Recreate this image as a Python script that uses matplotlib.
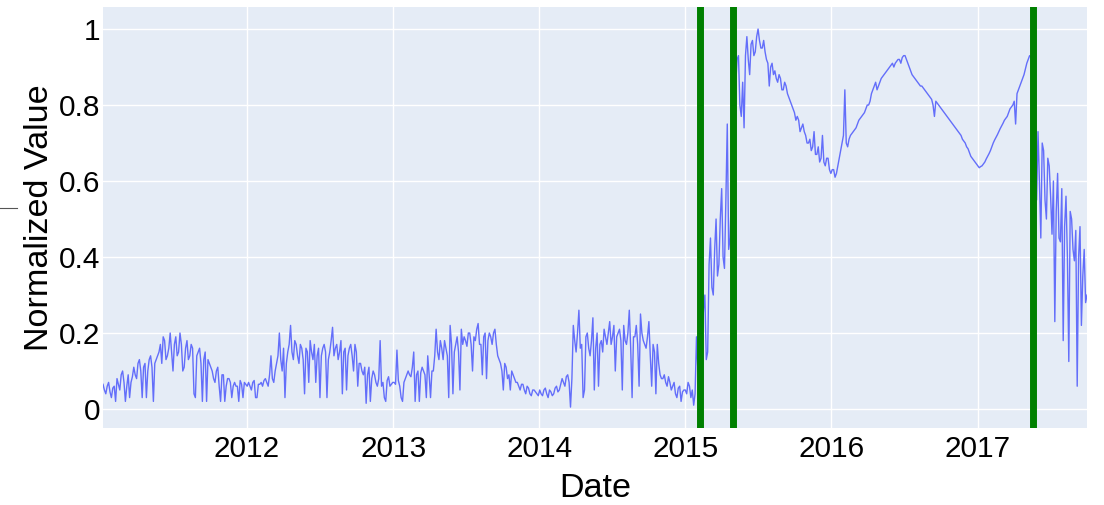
''' Normalized Value の時系列と変化点 '''
import matplotlib
matplotlib.use('Agg')
import matplotlib.pyplot as plt
import matplotlib.dates as mdates
from matplotlib.lines import Line2D
import pandas as pd

plt.rcParams['font.family'] = ['Liberation Sans', 'DejaVu Sans']

# weekly readings, starting 2011-01-06
start_date = '2011-01-06'
values_2011 = [0.065, 0.04, 0.07, 0.03, 0.06,
               0.08, 0.05, 0.1, 0.02, 0.09, 0.07,
               0.11, 0.08, 0.13, 0.03, 0.12, 0.1, 0.14, 0.02, 0.13,
               0.15, 0.12, 0.18, 0.14, 0.2, 0.1, 0.19, 0.15, 0.17, 0.11,
               0.18, 0.14, 0.16, 0.03, 0.15, 0.12, 0.13, 0.02, 0.12,
               0.1, 0.07, 0.11, 0.02, 0.09, 0.06, 0.08, 0.03,
               0.07, 0.06, 0.075, 0.03, 0.065]
values_2012 = [0.07, 0.05, 0.075, 0.03, 0.065, 0.06,
               0.08, 0.06, 0.14, 0.07,
               0.12, 0.2, 0.1, 0.03, 0.15,
               0.22, 0.13, 0.17, 0.12, 0.16, 0.04, 0.15, 0.18,
               0.13, 0.07, 0.16, 0.14, 0.17, 0.03, 0.15, 0.215,
               0.16, 0.13, 0.18, 0.15, 0.05, 0.16, 0.14, 0.17, 0.06,
               0.12, 0.09, 0.015, 0.11, 0.08,
               0.09, 0.06, 0.18, 0.07, 0.02, 0.085, 0.065]
values_2013 = [0.07, 0.155, 0.06, 0.02, 0.08,
               0.1, 0.085, 0.15, 0.09, 0.02, 0.11, 0.09, 0.14, 0.03,
               0.1, 0.21, 0.13, 0.16,
               0.18, 0.14, 0.22, 0.04, 0.17, 0.15, 0.21,
               0.19, 0.165, 0.2, 0.1, 0.18, 0.225, 0.17, 0.19, 0.08, 0.2, 0.17, 0.21,
               0.14, 0.12, 0.05, 0.11, 0.09, 0.1, 0.08,
               0.07, 0.05, 0.065, 0.04, 0.055, 0.035, 0.05, 0.04]
values_2014 = [0.05, 0.035, 0.055, 0.03, 0.045, 0.04, 0.06, 0.05,
               0.08, 0.06, 0.09, 0.005,
               0.22, 0.15, 0.26, 0.17, 0.05, 0.2, 0.14, 0.24, 0.16, 0.06, 0.18,
               0.21, 0.17, 0.23, 0.19, 0.1, 0.2, 0.18,
               0.22, 0.17, 0.26, 0.03, 0.19, 0.17, 0.25, 0.18,
               0.16, 0.23, 0.06, 0.15, 0.17,
               0.09, 0.08, 0.07, 0.085,
               0.05, 0.07, 0.03, 0.06, 0.045]
values_2015 = [0.05, 0.07, 0.03, 0.01, 0.19, 0.15,
               0.2, 0.3, 0.15, 0.45, 0.3, 0.5, 0.38, 0.58, 0.37, 0.75, 0.45, 0.6,
               0.85, 0.93, 0.77, 0.74, 0.98, 0.88, 0.97, 0.94, 1.0, 0.95, 0.97, 0.92,
               0.85, 0.91, 0.89, 0.86, 0.87, 0.84, 0.85, 0.82, 0.8, 0.78,
               0.77, 0.73, 0.75, 0.72, 0.7, 0.68, 0.73, 0.67, 0.65, 0.72, 0.64, 0.66]
values_2016 = [0.62, 0.63, 0.62, 0.66, 0.7, 0.84, 0.69, 0.72, 0.73, 0.74,
               0.76, 0.77, 0.78, 0.8, 0.81, 0.84, 0.86, 0.85, 0.87, 0.88, 0.89,
               0.9, 0.91, 0.91, 0.92, 0.91, 0.93, 0.92, 0.9, 0.88, 0.87,
               0.86, 0.85, 0.845, 0.835, 0.825, 0.815, 0.77, 0.805, 0.795, 0.785,
               0.775, 0.765, 0.755, 0.745, 0.735, 0.725, 0.71, 0.7, 0.685, 0.665,
               0.655]
values_2017 = [0.645, 0.635, 0.64, 0.65, 0.665, 0.68, 0.7, 0.715, 0.73, 0.745,
               0.76, 0.77, 0.79, 0.8, 0.75, 0.84, 0.86, 0.88, 0.91, 0.93,
               0.92, 0.7, 0.73, 0.45, 0.68, 0.5, 0.64, 0.46, 0.23, 0.62,
               0.44, 0.18, 0.56, 0.125, 0.5, 0.39, 0.06, 0.48, 0.35, 0.28]

# mid-week readings (3.5 days after each weekly one)
mid_2011 = [0.05, 0.06, 0.045, 0.055, 0.02,
            0.065, 0.09, 0.07, 0.06, 0.03, 0.085,
            0.09, 0.12, 0.1, 0.11, 0.03, 0.13, 0.11, 0.12, 0.14,
            0.17, 0.19, 0.13, 0.16, 0.15, 0.17, 0.14, 0.2, 0.1, 0.16,
            0.13, 0.17, 0.04, 0.14, 0.16, 0.02, 0.15, 0.13, 0.11,
            0.08, 0.1, 0.06, 0.09, 0.02, 0.08, 0.07, 0.06,
            0.06, 0.02, 0.065, 0.07, 0.06]
mid_2012 = [0.06, 0.07, 0.03, 0.065, 0.07, 0.075,
            0.07, 0.09, 0.08, 0.1,
            0.14, 0.13, 0.16, 0.12, 0.17,
            0.15, 0.18, 0.14, 0.17, 0.13, 0.16, 0.07, 0.15,
            0.17, 0.14, 0.03, 0.16, 0.15, 0.13, 0.18, 0.14,
            0.17, 0.15, 0.04, 0.16, 0.14, 0.17, 0.1, 0.15, 0.12,
            0.1, 0.11, 0.09, 0.02, 0.1,
            0.07, 0.08, 0.06, 0.03, 0.075, 0.06, 0.07]
mid_2013 = [0.065, 0.075, 0.03, 0.07, 0.09,
            0.09, 0.11, 0.02, 0.1, 0.095, 0.1, 0.03, 0.09, 0.1,
            0.14, 0.15, 0.18, 0.13,
            0.16, 0.03, 0.17, 0.15, 0.19, 0.05, 0.17,
            0.18, 0.2, 0.17, 0.19, 0.21, 0.17, 0.09, 0.2, 0.18, 0.19, 0.2, 0.17,
            0.13, 0.1, 0.12, 0.08, 0.05, 0.09, 0.07,
            0.06, 0.065, 0.05, 0.06, 0.04, 0.05, 0.045, 0.035]
mid_2014 = [0.04, 0.05, 0.04, 0.05, 0.035, 0.055, 0.045, 0.065,
            0.07, 0.085, 0.07, 0.08,
            0.18, 0.2, 0.16, 0.03, 0.19, 0.16, 0.18, 0.05, 0.2, 0.17, 0.15,
            0.19, 0.2, 0.17, 0.22, 0.19, 0.21, 0.05,
            0.18, 0.2, 0.16, 0.19, 0.22, 0.06, 0.2, 0.17,
            0.19, 0.14, 0.17, 0.04, 0.12,
            0.08, 0.09, 0.06, 0.07,
            0.06, 0.04, 0.055, 0.02, 0.05]
mid_2015 = [0.04, 0.06, 0.05, 0.04, 0.1, 0.22,
            0.26, 0.13, 0.38, 0.32, 0.42, 0.35, 0.5, 0.4, 0.55, 0.42, 0.58, 0.55,
            0.92, 0.8, 0.86, 0.93, 0.92, 0.96, 0.93, 0.98, 0.97, 0.95, 0.94, 0.91,
            0.9, 0.88, 0.87, 0.88, 0.84, 0.86, 0.83, 0.81, 0.79, 0.76,
            0.76, 0.74, 0.73, 0.7, 0.71, 0.69, 0.67, 0.69, 0.66, 0.65, 0.66, 0.63]
mid_2016 = [0.63, 0.61, 0.64, 0.68, 0.72, 0.7, 0.71, 0.725, 0.735, 0.75,
            0.765, 0.775, 0.79, 0.8, 0.83, 0.85, 0.84, 0.86, 0.875, 0.885,
            0.895, 0.905, 0.9, 0.915, 0.92, 0.925, 0.93, 0.91, 0.89, 0.875,
            0.865, 0.855, 0.85, 0.84, 0.83, 0.82, 0.8, 0.81, 0.8, 0.79,
            0.78, 0.77, 0.76, 0.75, 0.74, 0.73, 0.72, 0.705, 0.69, 0.675,
            0.66, 0.65]
mid_2017 = [0.64, 0.638, 0.645, 0.658, 0.672, 0.69, 0.708, 0.722, 0.738, 0.752,
            0.765, 0.78, 0.795, 0.81, 0.83, 0.85, 0.87, 0.895, 0.92, 0.925,
            0.88, 0.55, 0.6, 0.7, 0.55, 0.66, 0.56, 0.6, 0.52, 0.45,
            0.58, 0.48, 0.4, 0.52, 0.42, 0.47, 0.4, 0.22, 0.42, 0.3]

change_points = ['2015-02-07', '2015-04-30', '2017-05-20']
y_ticks = [0, 0.2, 0.4, 0.6, 0.8, 1]
y_tick_labels = ['0', '0.2', '0.4', '0.6', '0.8', '1']


def main():
    weekly = (values_2011 + values_2012 + values_2013 + values_2014
              + values_2015 + values_2016 + values_2017)
    mid = (mid_2011 + mid_2012 + mid_2013 + mid_2014
           + mid_2015 + mid_2016 + mid_2017)
    weekly_dates = pd.date_range(start_date, periods=len(weekly), freq='7D')
    mid_dates = weekly_dates + pd.Timedelta(hours=84)
    series = pd.concat([pd.Series(weekly, index=weekly_dates),
                        pd.Series(mid, index=mid_dates)]).sort_index()
    make_graph(series)


def make_graph(series):
    fig = plt.figure(figsize=(11.04, 5.05), dpi=100)
    ax = fig.add_axes([103 / 1104, 1 - 428 / 505, 984 / 1104, 421 / 505])
    ax.set_facecolor('#E5ECF6')

    ax.plot(series.index, series.values, color='#636EFA', linewidth=1.0,
            zorder=3)
    for cp in change_points:
        ax.axvline(pd.Timestamp(cp), color='#008000', linewidth=5.0, zorder=4)

    ax.set_xlim(series.index[0], series.index[-1])
    ax.set_ylim(-0.05, 1.058)
    ax.xaxis.set_major_locator(mdates.YearLocator())
    ax.xaxis.set_major_formatter(mdates.DateFormatter('%Y'))
    ax.set_yticks(y_ticks)
    ax.set_yticklabels(y_tick_labels)

    ax.grid(color='white', linewidth=1.0, zorder=0)
    ax.set_axisbelow(True)
    for spine in ax.spines.values():
        spine.set_visible(False)
    ax.tick_params(axis='both', length=0, labelsize=21.4, colors='black')
    ax.tick_params(axis='x', pad=5)
    ax.tick_params(axis='y', pad=2)

    ax.set_xlabel('Date', fontsize=24.6, labelpad=7.5)
    ax.set_ylabel('Normalized Value', fontsize=24.6, labelpad=3)

    # 左端の短い線
    fig.add_artist(Line2D([0, 17 / 1104], [1 - 208 / 505, 1 - 208 / 505],
                          color='#555555', linewidth=0.8))

    fig.savefig('out.png', dpi=100, facecolor='white')


if __name__ == "__main__":
    main()
